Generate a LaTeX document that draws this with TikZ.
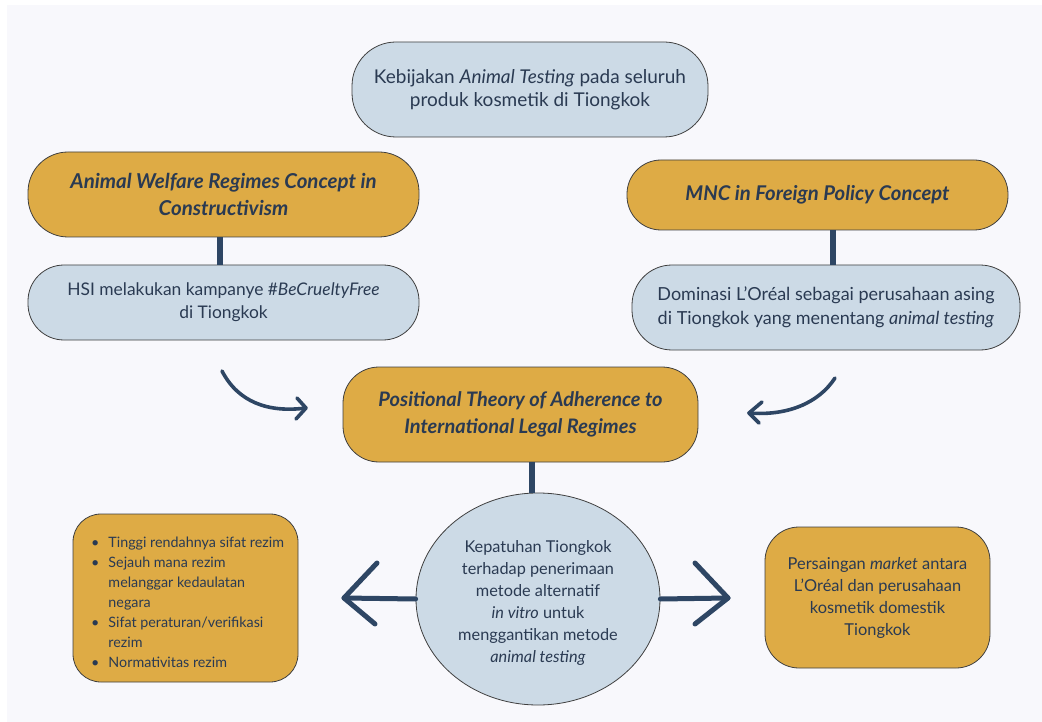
\documentclass[tikz,border=0pt]{standalone}
\usepackage{fontspec}
\usetikzlibrary{shapes.geometric}
\setmainfont{Lato}
\definecolor{bgc}{HTML}{F8F8FC}
\definecolor{bluef}{HTML}{CCDAE6}
\definecolor{goldf}{HTML}{DEAB45}
\definecolor{edgec}{HTML}{3F3F3F}
\definecolor{txtc}{HTML}{2A3A52}
\definecolor{linkc}{HTML}{2E4664}
\begin{document}
\begin{tikzpicture}[x=1pt,y=-1pt,
  box/.style={draw=edgec,line width=0.8pt,inner sep=0pt,align=center,text=txtc},
  bluebox/.style={box,fill=bluef},
  goldbox/.style={box,fill=goldf},
  link/.style={draw=linkc,line width=6pt},
  harrow/.style={draw=linkc,line width=5pt,line cap=round,line join=round},
  carrow/.style={draw=linkc,line width=3.6pt,line cap=round,line join=round}]
\useasboundingbox (0,0) rectangle (1042,722);
\fill[white] (0,0) rectangle (1042,722);
\fill[bgc] (7,5) rectangle (1042,722);

\node[bluebox,font=\fontsize{19}{23.5}\selectfont,minimum width=356pt,minimum height=95pt,rounded corners=44pt] (top) at (530,89.5)
  {Kebijakan \textit{Animal Testing} pada seluruh\\produk kosmetik di Tiongkok};

\node[goldbox,font=\fontsize{20.5}{27}\selectfont\bfseries\itshape,minimum width=391pt,minimum height=85pt,rounded corners=40pt] (lgold) at (223.5,194.5)
  {Animal Welfare Regimes Concept in\\Constructivism};
\node[bluebox,font=\fontsize{17.4}{23}\selectfont,minimum width=391pt,minimum height=75pt,rounded corners=36pt] (lblue) at (223.5,302.5)
  {HSI melakukan kampanye \#\textit{BeCrueltyFree}\\di Tiongkok};

\node[goldbox,font=\fontsize{20.3}{27}\selectfont\bfseries\itshape,minimum width=381pt,minimum height=70pt,rounded corners=34pt] (rgold) at (817.5,195)
  {MNC in Foreign Policy Concept};
\node[bluebox,font=\fontsize{18}{24}\selectfont,minimum width=388pt,minimum height=85pt,rounded corners=40pt] (rblue) at (826,307.5)
  {Dominasi L’Oréal sebagai perusahaan asing\\di Tiongkok yang menentang \textit{animal testing}};

\node[goldbox,font=\fontsize{20}{27}\selectfont\bfseries\itshape,minimum width=355pt,minimum height=95pt,rounded corners=36pt] (cgold) at (520.5,414.5)
  {Positional Theory of Adherence to\\International Legal Regimes};

\node[bluebox,ellipse,minimum width=244pt,minimum height=212pt] (circ) at (538,599)
  {};
\node[text=txtc,align=center,font=\fontsize{16.3}{22}\selectfont] (circtxt) at (538,603)
  {Kepatuhan Tiongkok\\terhadap penerimaan\\metode alternatif\\\textit{in vitro} untuk\\menggantikan metode\\\textit{animal testing}};

\node[goldbox,minimum width=225pt,minimum height=168pt,rounded corners=28pt] (lbul) at (185.5,598) {};
\node[text=txtc,anchor=north west,inner sep=0pt,font=\fontsize{14.3}{20}\selectfont] (lbultxt) at (91,533)
  {\begin{tabular}{@{}l@{\hspace{9pt}}l@{}}
  \textbullet & Tinggi rendahnya sifat rezim\\
  \textbullet & Sejauh mana rezim\\
   & melanggar kedaulatan\\
   & negara\\
  \textbullet & Sifat peraturan/verifikasi\\
   & rezim\\
  \textbullet & Normativitas rezim
  \end{tabular}};

\node[goldbox,minimum width=225pt,minimum height=141pt,rounded corners=34pt,font=\fontsize{16.4}{22}\selectfont] (rbox) at (877.5,597.5)
  {Persaingan \textit{market} antara\\L’Oréal dan perusahaan\\kosmetik domestik\\Tiongkok};

% vertical connectors
\draw[link] (lgold.south -| 220,0) -- (lblue.north -| 220,0);
\draw[link] (rgold.south -| 833,0) -- (rblue.north -| 833,0);
\draw[link] (cgold.south -| 532,0) -- (circ.north -| 532,0);

% curved arrows
\coordinate (ca1) at (222,371);
\coordinate (ca2) at (306,408);
\draw[carrow] (ca1) .. controls (238,402) and (268,413) .. (ca2);
\draw[carrow] (297,398) -- (ca2) -- (296,419);
\coordinate (cb1) at (835,378);
\coordinate (cb2) at (749,413);
\draw[carrow] (cb1) .. controls (818,404) and (786,416) .. (cb2);
\draw[carrow] (762,402) -- (cb2) -- (759,423);

% horizontal arrows
\coordinate (la) at (344,598);
\coordinate (ra) at (728,598);
\draw[harrow] (circ.west) -- (la);
\draw[harrow] (377,563) -- (la) -- (375,624);
\draw[harrow] (circ.east) -- (ra);
\draw[harrow] (695,563) -- (ra) -- (695,624);
\end{tikzpicture}
\end{document}
